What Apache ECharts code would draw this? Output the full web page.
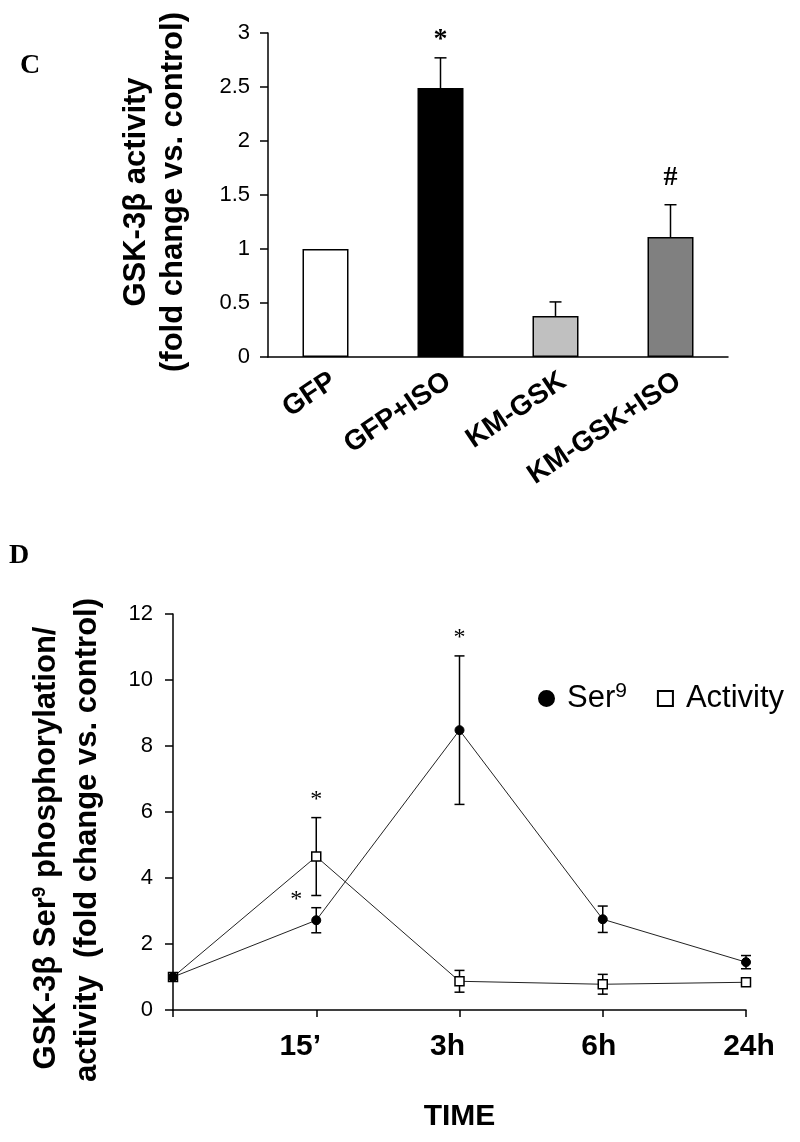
<!DOCTYPE html>
<html><head><meta charset="utf-8">
<script src="https://cdn.jsdelivr.net/npm/echarts@6/dist/echarts.min.js"></script>
<style>html,body{margin:0;padding:0;background:#fff}#c{width:800px;height:1142px}</style>
</head><body><div id="c"></div>
<script>
// ---- Panel C data ----
const barCategories = ['GFP', 'GFP+ISO', 'KM-GSK', 'KM-GSK+ISO'];
const barValues = [1.0, 2.49, 0.38, 1.11];
const barErrors = [0, 0.28, 0.13, 0.30];
const barColors = ['#ffffff', '#000000', '#c0c0c0', '#808080'];
const barMarks = ['', '*', '', '#'];
const barTicks = [0, 0.5, 1, 1.5, 2, 2.5, 3];

// ---- Panel D data ----
const timePoints = [0, 1, 2, 3, 4];
const timeLabels = ['', '15\u2019', '3h', '6h', '24h'];
const ser9Values = [1.0, 2.72, 8.48, 2.75, 1.45];
const ser9Errors = [0, 0.38, 2.25, 0.40, 0.20];
const ser9Marks = ['', '*', '*', '', ''];
const ser9MarkSide = ['', 'left', 'top', '', ''];
const activityValues = [1.0, 4.65, 0.87, 0.78, 0.84];
const activityErrors = [0, 1.18, 0.33, 0.30, 0.08];
const activityMarks = ['', '*', '', '', ''];
const activityMarkSide = ['', 'top', '', '', ''];
const lineTicks = [0, 2, 4, 6, 8, 10, 12];

const SANS = 'Liberation Sans, Arial, sans-serif';
const SERIF = 'Liberation Serif, Times New Roman, serif';
const markOffset = {'*': 18, '#': 27};
// small horizontal nudges of the time labels (style only)
const timeLabelPad = [[0, 0], [0, 32], [0, 24], [0, 8], [6, 0]];

function errRender(marks, sides, capHalf, oneSided, markFont) {
  return function (params, api) {
    const x = api.value(0), y = api.value(1), e = api.value(2);
    const c = api.coord([x, y]);
    const top = api.coord([x, y + e]);
    const bot = oneSided ? c : api.coord([x, y - e]);
    const children = [];
    if (e > 0) {
      const st = {stroke: '#000', lineWidth: 1.5};
      children.push({type: 'line', shape: {x1: top[0], y1: top[1], x2: bot[0], y2: bot[1]}, style: st});
      children.push({type: 'line', shape: {x1: top[0] - capHalf, y1: top[1], x2: top[0] + capHalf, y2: top[1]}, style: st});
      if (!oneSided) children.push({type: 'line', shape: {x1: bot[0] - capHalf, y1: bot[1], x2: bot[0] + capHalf, y2: bot[1]}, style: st});
    }
    const m = marks[params.dataIndex];
    if (m) {
      const side = sides ? sides[params.dataIndex] : 'top';
      let tx = top[0], ty = top[1] - (markOffset[m] || 18);
      if (side === 'left') { tx = c[0] - 20; ty = c[1] - 21; }
      children.push({type: 'text', style: {text: m, x: tx, y: ty, align: 'center', verticalAlign: 'middle',
        fontSize: markFont.size, fontWeight: markFont.weight, fontFamily: SERIF, fill: '#000'}});
    }
    return {type: 'group', children};
  };
}

const timeRich = {};
timeLabels.forEach((t, i) => {
  timeRich['p' + i] = {fontSize: 30, fontWeight: 'bold', fontFamily: SANS, color: '#000',
    padding: [0, timeLabelPad[i][1], 0, timeLabelPad[i][0]]};
});

const chart = echarts.init(document.getElementById('c'), null, {renderer: 'canvas'});
const axisLineStyle = {color: '#000', width: 1.5};

chart.setOption({
  animation: false,
  backgroundColor: '#fff',
  grid: [
    {left: 268, top: 33, width: 460, height: 324},
    {left: 173, top: 614, width: 573, height: 396}
  ],
  xAxis: [
    {type: 'category', gridIndex: 0, data: barCategories,
      axisLine: {lineStyle: axisLineStyle}, axisTick: {show: false},
      axisLabel: {rotate: 34, margin: 10, verticalAlign: 'top', fontSize: 28, fontWeight: 'bold', fontFamily: SANS, color: '#000'}},
    {type: 'value', gridIndex: 1, min: timePoints[0], max: timePoints[timePoints.length - 1], interval: 1,
      splitLine: {show: false},
      axisLine: {lineStyle: axisLineStyle}, axisTick: {show: true, length: 7, lineStyle: axisLineStyle},
      axisLabel: {margin: 22, fontSize: 30, fontWeight: 'bold', fontFamily: SANS, color: '#000',
        formatter: v => { const i = timePoints.indexOf(v); return i >= 0 && timeLabels[i] ? '{p' + i + '|' + timeLabels[i] + '}' : ''; },
        rich: timeRich},
      name: 'TIME', nameLocation: 'middle', nameGap: 92,
      nameTextStyle: {fontSize: 30, fontWeight: 'bold', fontFamily: SANS, color: '#000'}}
  ],
  yAxis: [
    {type: 'value', gridIndex: 0, min: barTicks[0], max: barTicks[barTicks.length - 1], interval: 0.5,
      splitLine: {show: false},
      axisLine: {show: true, lineStyle: axisLineStyle}, axisTick: {show: true, length: 8, lineStyle: axisLineStyle},
      axisLabel: {margin: 18, fontSize: 22, fontFamily: SANS, color: '#000'}},
    {type: 'value', gridIndex: 1, min: lineTicks[0], max: lineTicks[lineTicks.length - 1], interval: 2,
      splitLine: {show: false},
      axisLine: {show: true, lineStyle: axisLineStyle}, axisTick: {show: true, length: 8, lineStyle: axisLineStyle},
      axisLabel: {margin: 20, fontSize: 22, fontFamily: SANS, color: '#000'}}
  ],
  legend: {
    data: [{name: 'Ser9', icon: 'circle'}, {name: 'Activity', icon: 'rect'}],
    left: 533, top: 676, itemWidth: 15, itemHeight: 15, itemGap: 30,
    selectedMode: false,
    formatter: n => n === 'Ser9' ? '{t|Ser}{s|9}' : '{t|Activity}',
    textStyle: {color: '#000', fontFamily: SANS, fontSize: 31,
      rich: {t: {fontSize: 31, fontFamily: SANS, color: '#000', padding: [0, 0, 0, 8]},
             s: {fontSize: 21, fontFamily: SANS, color: '#000', padding: [0, 0, 14, 0]}}}
  },
  graphic: [
    {type: 'text', left: 20, top: 52, style: {text: 'C', fontSize: 28, fontWeight: 'bold', fontFamily: SERIF, fill: '#000'}},
    {type: 'text', left: 9, top: 542, style: {text: 'D', fontSize: 28, fontWeight: 'bold', fontFamily: SERIF, fill: '#000'}},
    {type: 'text', x: 136, y: 192, rotation: Math.PI / 2,
      style: {text: 'GSK-3\u03b2 activity', align: 'center', verticalAlign: 'middle', fontSize: 31, fontWeight: 'bold', fontFamily: SANS, fill: '#000'}},
    {type: 'text', x: 173, y: 192, rotation: Math.PI / 2,
      style: {text: '(fold change vs. control)', align: 'center', verticalAlign: 'middle', fontSize: 31, fontWeight: 'bold', fontFamily: SANS, fill: '#000'}},
    {type: 'text', x: 46, y: 848, rotation: Math.PI / 2,
      style: {text: '{b|GSK-3\u03b2 Ser}{s|9}{b| phosphorylation/}', align: 'center', verticalAlign: 'middle',
        rich: {b: {fontSize: 31, fontWeight: 'bold', fontFamily: SANS, fill: '#000'},
               s: {fontSize: 19, fontWeight: 'bold', fontFamily: SANS, fill: '#000', verticalAlign: 'top'}}}},
    {type: 'text', x: 87, y: 840, rotation: Math.PI / 2,
      style: {text: 'activity  (fold change vs. control)', align: 'center', verticalAlign: 'middle', fontSize: 31, fontWeight: 'bold', fontFamily: SANS, fill: '#000'}}
  ],
  series: [
    {type: 'bar', xAxisIndex: 0, yAxisIndex: 0, barWidth: 46, z: 2,
      data: barValues.map((v, i) => ({value: v, itemStyle: {color: barColors[i]}})),
      itemStyle: {borderColor: '#000', borderWidth: 1.5}},
    {type: 'custom', xAxisIndex: 0, yAxisIndex: 0, z: 3,
      renderItem: errRender(barMarks, null, 6, true, {size: 28, weight: 'bold'}),
      data: barValues.map((v, i) => [i, v, barErrors[i]])},
    {type: 'custom', xAxisIndex: 1, yAxisIndex: 1, z: 1,
      renderItem: errRender(activityMarks, activityMarkSide, 5, false, {size: 24, weight: 'normal'}),
      data: timePoints.map((t, i) => [t, activityValues[i], activityErrors[i]])},
    {type: 'custom', xAxisIndex: 1, yAxisIndex: 1, z: 1,
      renderItem: errRender(ser9Marks, ser9MarkSide, 5, false, {size: 24, weight: 'normal'}),
      data: timePoints.map((t, i) => [t, ser9Values[i], ser9Errors[i]])},
    {type: 'line', name: 'Activity', xAxisIndex: 1, yAxisIndex: 1, z: 3,
      data: timePoints.map((t, i) => [t, activityValues[i]]),
      symbol: 'rect', symbolSize: 9,
      lineStyle: {color: '#222', width: 1},
      itemStyle: {color: '#fff', borderColor: '#000', borderWidth: 1.5}},
    {type: 'line', name: 'Ser9', xAxisIndex: 1, yAxisIndex: 1, z: 4,
      data: timePoints.map((t, i) => [t, ser9Values[i]]),
      symbol: 'circle', symbolSize: 9,
      lineStyle: {color: '#222', width: 1},
      itemStyle: {color: '#000', borderColor: '#000', borderWidth: 1}}
  ]
});
</script></body></html>
